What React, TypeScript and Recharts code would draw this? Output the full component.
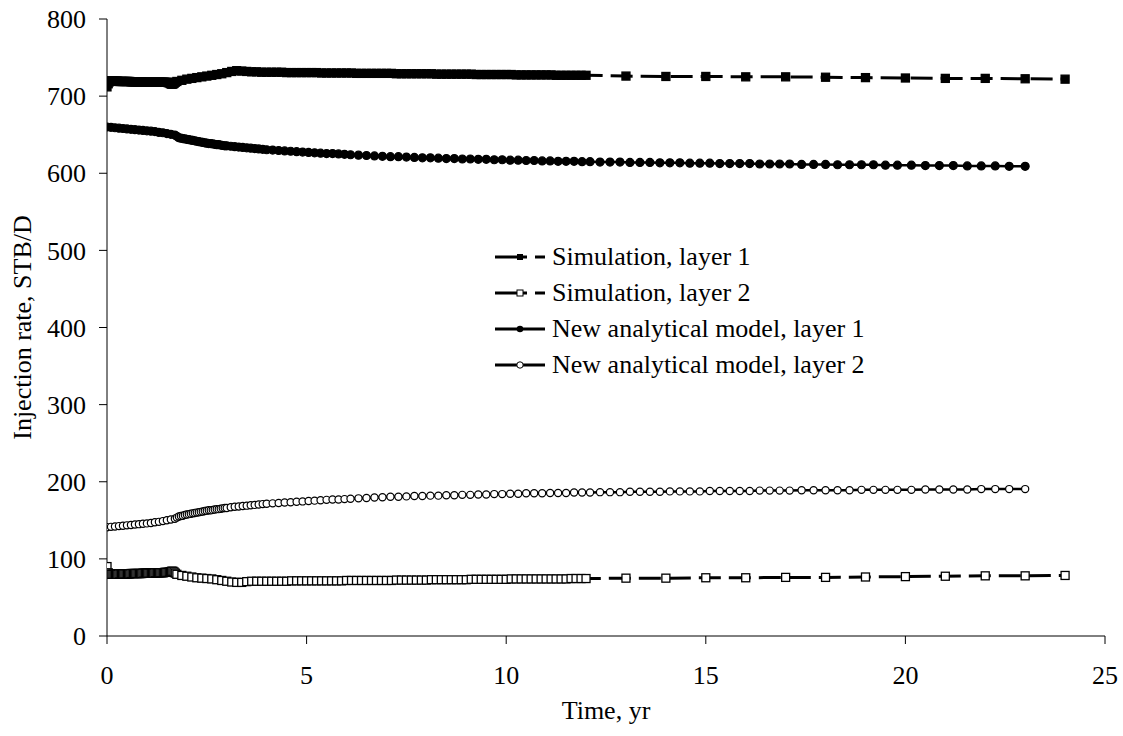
import React from 'react';
import { LineChart, Line, XAxis, YAxis, Legend } from 'recharts';

const FONT = "'Liberation Serif', 'Times New Roman', serif";

// Simulation output times (yr)
const simTimes = [
  0, 0.03, 0.06, 0.09, 0.12, 0.15, 0.18, 0.21, 0.24, 0.27, 0.3, 0.33, 0.36, 0.39, 0.42, 0.45, 0.48, 0.51, 0.54, 0.57,
  0.6, 0.63, 0.66, 0.69, 0.72, 0.75, 0.78, 0.81, 0.84, 0.87, 0.9, 0.93, 0.96, 0.99, 1.02, 1.05, 1.08, 1.11, 1.14, 1.17,
  1.2, 1.23, 1.26, 1.29, 1.32, 1.35, 1.38, 1.41, 1.44, 1.47, 1.5, 1.53, 1.56, 1.59, 1.62, 1.65, 1.68, 1.71,
  1.75, 1.875, 2, 2.125, 2.25, 2.375, 2.5, 2.625, 2.75, 2.875, 3, 3.125, 3.25, 3.375, 3.5, 3.625, 3.75, 3.875, 4,
  4.125, 4.25, 4.375, 4.5, 4.625, 4.75, 4.875, 5, 5.125, 5.25, 5.375, 5.5, 5.625, 5.75, 5.875, 6,
  6.125, 6.25, 6.375, 6.5, 6.625, 6.75, 6.875, 7, 7.125, 7.25, 7.375, 7.5, 7.625, 7.75, 7.875, 8,
  8.125, 8.25, 8.375, 8.5, 8.625, 8.75, 8.875, 9, 9.125, 9.25, 9.375, 9.5, 9.625, 9.75, 9.875, 10,
  10.125, 10.25, 10.375, 10.5, 10.625, 10.75, 10.875, 11, 11.125, 11.25, 11.375, 11.5, 11.625, 11.75, 11.875, 12,
  13, 14, 15, 16, 17, 18, 19, 20, 21, 22, 23, 24,
];

// Simulation, layer 1 (STB/D)
const simLayer1 = [
  712, 716, 718.5, 720, 719.5, 719.5, 719.5, 719.5, 719.5, 719.5,
  719, 719, 719, 719, 719, 719, 719, 719, 719, 719,
  718.5, 718.5, 718.5, 718.5, 718.5, 718.5, 718.5, 718.5, 718.5, 718.5,
  718, 718, 718, 718, 718, 718, 718, 718, 718, 718, 718, 718, 718, 718, 718, 718, 718, 718, 718, 718, 718,
  717.5, 717, 716, 715.5, 715.5, 716.5, 718,
  719, 720.5, 722, 723, 724, 725, 726, 727, 728, 729, 730.5, 732, 733, 732.5, 732, 731.5, 731.5, 731, 731,
  731, 731, 731, 730.5, 730.5, 730.5, 730.5, 730.5,
  730.5, 730.5, 730, 730, 730, 730, 730, 730,
  730, 729.5, 729.5, 729.5, 729.5, 729.5, 729.5, 729.5,
  729.5, 729, 729, 729, 729, 729, 729, 729,
  729, 728.5, 728.5, 728.5, 728.5, 728.5, 728.5, 728.5,
  728.5, 728, 728, 728, 728, 728, 728, 728,
  728, 727.5, 727.5, 727.5, 727.5, 727.5, 727.5, 727.5,
  727.5, 727, 727, 727, 727, 727, 727, 727,
  726, 725.5, 725.5, 725, 725, 724.5, 724, 723.5, 723, 723, 722.5, 722,
];

// Simulation, layer 2 (STB/D)
const simLayer2 = [
  90, 82, 80, 80, 80, 80, 80, 80, 80, 80,
  80.5, 80.5, 80.5, 80.5, 80.5, 80.5, 80.5, 80.5, 80.5, 80.5,
  81, 81, 81, 81, 81, 81, 81, 81, 81, 81,
  81.5, 81.5, 81.5, 81.5, 81.5, 81.5, 81.5, 81.5, 81.5, 81.5,
  82, 82, 82, 82, 82, 82, 82, 82,
  82.5, 82.5, 82.5, 82.5, 83, 83.5, 84, 84, 83, 81.5,
  80, 78.5, 77.5, 76.5, 75.5, 75, 74.5, 74, 73, 72, 71, 70, 69.5, 69.5, 70.5, 71, 71, 71, 71,
  71, 71, 71, 71, 71.5, 71.5, 71.5, 71.5,
  71.5, 71.5, 71.5, 71.5, 71.5, 71.5, 71.5, 72,
  72, 72, 72, 72, 72, 72, 72, 72,
  72, 72.5, 72.5, 72.5, 72.5, 72.5, 72.5, 72.5,
  73, 73, 73, 73, 73, 73, 73, 73,
  73.5, 73.5, 73.5, 73.5, 73.5, 73.5, 73.5, 73.5,
  74, 74, 74, 74, 74, 74, 74, 74,
  74, 74, 74, 74, 74.5, 74.5, 74.5, 74.5,
  75, 75, 75.5, 75.5, 76, 76, 76.5, 77, 77.5, 78, 78, 78.5,
];

// Analytical model output times (yr)
const modelTimes = [
  0, 0.1, 0.2, 0.3, 0.4, 0.5, 0.6, 0.7, 0.8, 0.9, 1, 1.1, 1.2, 1.3, 1.4, 1.5, 1.6, 1.7,
  1.75, 1.8, 1.85, 1.9, 1.95, 2, 2.05, 2.1, 2.15, 2.2, 2.25, 2.3, 2.35, 2.4, 2.45, 2.5, 2.55, 2.6, 2.65, 2.7,
  2.75, 2.8, 2.85, 2.9, 2.95, 3,
  3.1, 3.2, 3.3, 3.4, 3.5, 3.6, 3.7, 3.8, 3.9, 4,
  4.15, 4.3, 4.45, 4.6, 4.75, 4.9, 5.05, 5.2, 5.35, 5.5, 5.65, 5.8, 5.95,
  6.1, 6.3, 6.5, 6.7, 6.9, 7.1, 7.3, 7.5, 7.7, 7.9, 8.1, 8.3, 8.5, 8.7, 8.9, 9.1, 9.3, 9.5, 9.7, 9.9,
  10.1, 10.3, 10.5, 10.7, 10.9, 11.1, 11.3, 11.5, 11.7, 11.9, 12.1,
  12.35, 12.6, 12.85, 13.1, 13.35, 13.6, 13.85, 14.1, 14.35, 14.6, 14.85, 15.1, 15.35, 15.6, 15.85, 16.1,
  16.35, 16.6, 16.85, 17.1,
  17.4, 17.7, 18, 18.3, 18.6, 18.9, 19.2, 19.5, 19.8, 20.15, 20.5, 20.85, 21.2, 21.55, 21.9, 22.25, 22.6, 23,
];

// New analytical model, layer 1 (STB/D)
const modelLayer1 = [
  660, 659.5, 659, 658.5, 658, 657.5, 657, 656.5, 656, 655.5, 655, 654.5, 654, 653, 652.5, 651.5, 650.5, 649.5,
  648, 646, 645.5, 645, 644.5, 644, 643.5, 643, 642.5, 642, 641.5, 641, 640.5, 640, 639.5, 639, 638.5, 638.5,
  638, 637.5, 637, 637, 636.5, 636, 635.5, 635.5,
  635, 634.5, 634, 633.5, 633, 632.5, 632, 631.5, 631, 630.5,
  630, 629.5, 629, 628.5, 628, 627.5, 627, 626.5, 626, 625.5, 625.5, 625, 624.5,
  624, 623.5, 623, 622.5, 622, 621.5, 621.5, 621, 620.5, 620, 620, 619.5, 619, 619, 618.5, 618.5, 618, 618,
  617.5, 617.5, 617, 617, 616.5, 616.5, 616, 616, 615.5, 615.5, 615.5, 615, 615,
  614.5, 614.5, 614.5, 614, 614, 614, 613.5, 613.5, 613.5, 613, 613, 613, 612.5, 612.5, 612.5, 612.5,
  612, 612, 612, 612,
  611.5, 611.5, 611.5, 611, 611, 611, 611, 610.5, 610.5, 610.5, 610, 610, 610, 609.5, 609.5, 609.5, 609, 609,
];

// New analytical model, layer 2 (STB/D)
const modelLayer2 = [
  141, 141.5, 142, 142.5, 143, 143.5, 144, 144.5, 145, 145.5, 146, 146.5, 147.5, 148, 149, 150, 151, 152,
  153.5, 155, 155.5, 156, 157, 157.5, 158, 158.5, 159, 159.5, 160, 160.5, 161, 161.5, 162, 162.5, 163, 163,
  163.5, 164, 164.5, 164.5, 165, 165.5, 166, 166,
  167, 167.5, 168, 168.5, 169, 169.5, 170, 170.5, 171, 171.5,
  172, 172.5, 173, 173.5, 174, 174.5, 175, 175.5, 176, 176.5, 177, 177, 177.5,
  178, 178.5, 179, 179.5, 180, 180.5, 180.5, 181, 181.5, 181.5, 182, 182, 182.5, 182.5, 183, 183, 183.5,
  183.5, 184, 184, 184.5, 184.5, 185, 185, 185, 185.5, 185.5, 185.5, 186, 186, 186,
  186.5, 186.5, 186.5, 187, 187, 187, 187, 187.5, 187.5, 187.5, 187.5, 188, 188, 188, 188, 188,
  188.5, 188.5, 188.5, 188.5,
  189, 189, 189, 189, 189, 189.5, 189.5, 189.5, 189.5, 189.5, 190, 190, 190, 190, 190.5, 190.5, 190.5, 190.5,
];

const xTicks = [0, 5, 10, 15, 20, 25];
const yTicks = [0, 100, 200, 300, 400, 500, 600, 700, 800];
const seriesNames = [
  'Simulation, layer 1',
  'Simulation, layer 2',
  'New analytical model, layer 1',
  'New analytical model, layer 2',
];
const xTitle = 'Time, yr';
const yTitle = 'Injection rate, STB/D';

const toPoints = (ts: number[], vs: number[]) => ts.map((t, i) => ({ t, v: vs[i] }));

const simData1 = toPoints(simTimes, simLayer1);
const simData2 = toPoints(simTimes, simLayer2);
const modelData1 = toPoints(modelTimes, modelLayer1);
const modelData2 = toPoints(modelTimes, modelLayer2);

const makeSquare = (fill: string, size: number) => (p: any) => (
  <rect
    key={`sq-${fill}-${p.index}`}
    x={p.cx - size / 2}
    y={p.cy - size / 2}
    width={size}
    height={size}
    fill={fill}
    stroke="#000"
    strokeWidth={1.3}
  />
);
const makeCircle = (fill: string, r: number) => (p: any) => (
  <circle key={`ci-${fill}-${p.index}`} cx={p.cx} cy={p.cy} r={r} fill={fill} stroke="#000" strokeWidth={1.2} />
);

const legendKinds = ['sqFilled', 'sqOpen', 'ciFilled', 'ciOpen'];

const LegendBox = () => (
  <div style={{ fontFamily: FONT, fontSize: 26, color: '#000' }}>
    {seriesNames.map((name, i) => {
      const kind = legendKinds[i];
      const dashed = i < 2;
      return (
        <div key={name} style={{ display: 'flex', alignItems: 'center', height: 36, whiteSpace: 'nowrap' }}>
          <svg width={57} height={36} style={{ flex: 'none' }}>
            <line
              x1={0}
              x2={50}
              y1={18}
              y2={18}
              stroke="#000"
              strokeWidth={3}
              strokeDasharray={dashed ? '32 8' : undefined}
            />
            {kind === 'sqFilled' && <rect x={22} y={15} width={6} height={6} fill="#000" />}
            {kind === 'sqOpen' && <rect x={22} y={15} width={6} height={6} fill="#fff" stroke="#000" strokeWidth={1} />}
            {kind === 'ciFilled' && <circle cx={25} cy={18} r={3.3} fill="#000" />}
            {kind === 'ciOpen' && <circle cx={25} cy={18} r={3.2} fill="#fff" stroke="#000" strokeWidth={1} />}
          </svg>
          <span style={{ lineHeight: '36px' }}>{name}</span>
        </div>
      );
    })}
  </div>
);

export default function App() {
  const tickStyle = { fill: '#000', fontSize: 26, fontFamily: FONT };
  return (
    <div style={{ position: 'absolute', left: 0, top: 0, background: '#fff' }}>
      <LineChart width={1123} height={736} margin={{ top: 19, right: 18, bottom: 40, left: 0 }}>
        <XAxis
          type="number"
          dataKey="t"
          domain={[0, 25]}
          ticks={xTicks}
          interval={0}
          tickSize={8}
          tickMargin={22}
          height={60}
          tick={tickStyle}
          axisLine={{ stroke: '#000', strokeWidth: 1 }}
          tickLine={{ stroke: '#000', strokeWidth: 1 }}
          allowDataOverflow
          label={{ value: xTitle, position: 'center', dy: 44, fill: '#000', fontSize: 26, fontFamily: FONT }}
        />
        <YAxis
          type="number"
          domain={[0, 800]}
          ticks={yTicks}
          interval={0}
          width={107}
          tickSize={8}
          tickMargin={13}
          tick={tickStyle}
          axisLine={{ stroke: '#000', strokeWidth: 1 }}
          tickLine={{ stroke: '#000', strokeWidth: 1 }}
          label={{
            value: yTitle,
            angle: -90,
            position: 'center',
            dx: -31.5,
            fill: '#000',
            fontSize: 26,
            fontFamily: FONT,
          }}
        />
        <Legend
          layout="vertical"
          align="center"
          verticalAlign="middle"
          wrapperStyle={{ left: 495, top: 239, width: 420 }}
          content={() => <LegendBox />}
        />
        <Line
          data={simData1}
          dataKey="v"
          name={seriesNames[0]}
          type="linear"
          stroke="#000"
          strokeWidth={3}
          strokeDasharray="22 8"
          dot={makeSquare('#000', 8)}
          activeDot={false}
          isAnimationActive={false}
        />
        <Line
          data={simData2}
          dataKey="v"
          name={seriesNames[1]}
          type="linear"
          stroke="#000"
          strokeWidth={3}
          strokeDasharray="22 8"
          dot={makeSquare('#fff', 8)}
          activeDot={false}
          isAnimationActive={false}
        />
        <Line
          data={modelData1}
          dataKey="v"
          name={seriesNames[2]}
          type="linear"
          stroke="#000"
          strokeWidth={2.5}
          dot={makeCircle('#000', 4)}
          activeDot={false}
          isAnimationActive={false}
        />
        <Line
          data={modelData2}
          dataKey="v"
          name={seriesNames[3]}
          type="linear"
          stroke="#000"
          strokeWidth={2.5}
          dot={makeCircle('#fff', 3.6)}
          activeDot={false}
          isAnimationActive={false}
        />
      </LineChart>
    </div>
  );
}
